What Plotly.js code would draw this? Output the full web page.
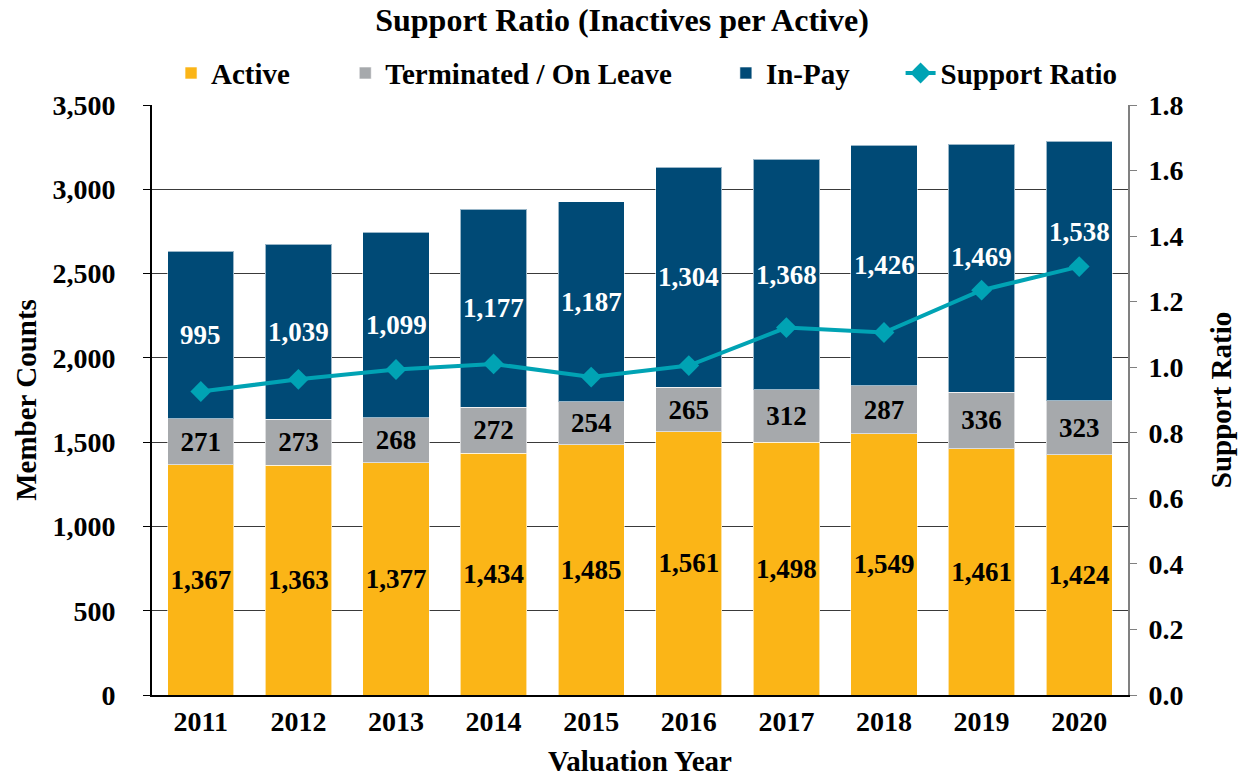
<!DOCTYPE html>
<html>
<head>
<meta charset="utf-8">
<script src="https://cdn.plot.ly/plotly-3.0.1.min.js"></script>
<style>html,body{margin:0;padding:0;background:#fff;}#chart{width:1244px;height:777px;}</style>
</head>
<body>
<div id="chart"></div>
<script>
const years = ["2011","2012","2013","2014","2015","2016","2017","2018","2019","2020"];
const active = [1367,1363,1377,1434,1485,1561,1498,1549,1461,1424];
const terminated = [271,273,268,272,254,265,312,287,336,323];
const inPay = [995,1039,1099,1177,1187,1304,1368,1426,1469,1538];
const supportRatio = [0.926,0.963,0.993,1.010,0.970,1.005,1.121,1.106,1.235,1.307];

// label nudges (px) for the In-Pay labels, kept apart from the data
const inPayLabelShift = [0,0,0,0,0,0,0,0,11,39];

const FONT = "Liberation Serif, Times New Roman, serif";
const fmt = v => v.toLocaleString("en-US");
const LBL = 27, TICK = 28, LEG = 29, ATITLE = 29;

function barTrace(name, y, color, textColor, legendId, showText) {
  const t = {
    type: "bar", name: name, x: years, y: y,
    hoverinfo: "skip", legend: legendId,
    marker: {color: color, line: {color: "rgba(255,255,255,0.6)", width: 1}}
  };
  if (showText) {
    Object.assign(t, {
      text: y.map(fmt), textposition: "inside", insidetextanchor: "middle",
      constraintext: "none", textangle: 0,
      insidetextfont: {family: FONT, size: LBL, color: textColor, weight: "bold"}
    });
  } else {
    t.textposition = "none";
  }
  return t;
}

const traces = [
  barTrace("Active", active, "#FBB517", "#000", "legend", true),
  barTrace("Terminated / On Leave", terminated, "#A6A9AC", "#000", "legend2", true),
  barTrace("In-Pay", inPay, "#004A76", "#fff", "legend3", false),
  {
    type: "scatter", mode: "lines+markers", name: "Support Ratio", legend: "legend4",
    x: years, y: supportRatio, yaxis: "y2",
    line: {color: "#00A3B4", width: 4},
    marker: {symbol: "diamond", size: 16, color: "#00A3B4"},
    hoverinfo: "skip"
  }
];

const annotations = years.map((yr, i) => ({
  x: i, y: active[i] + terminated[i] + inPay[i] / 2, xref: "x", yref: "y",
  text: fmt(inPay[i]), showarrow: false, yshift: inPayLabelShift[i],
  xanchor: "center", yanchor: "middle",
  font: {family: FONT, size: LBL, color: "#ffffff", weight: "bold"}
}));

function leg(x) {
  return {orientation: "h", x: x, xanchor: "left", y: 1.054, yanchor: "middle",
          font: {family: FONT, size: LEG, color: "#000", weight: "bold"},
          bgcolor: "rgba(0,0,0,0)", borderwidth: 0};
}

const layout = {
  width: 1244, height: 777,
  margin: {l: 152, r: 116, t: 105, b: 82},
  paper_bgcolor: "#fff", plot_bgcolor: "#fff",
  font: {family: FONT, color: "#000", size: TICK, weight: "bold"},
  barmode: "stack",
  bargap: 0.32,
  showlegend: true,
  annotations: annotations,
  title: {text: "Support Ratio (Inactives per Active)", x: 0.5, xanchor: "center", y: 0.974, yanchor: "middle",
          font: {family: FONT, size: 32, color: "#000", weight: "bold"}},
  legend: leg(0.0195),
  legend2: leg(0.198),
  legend3: leg(0.588),
  legend4: leg(0.767),
  xaxis: {
    type: "category", range: [-0.5, 9.5], autorange: false,
    showline: true, linecolor: "#000", linewidth: 2, mirror: false, automargin: false,
    ticks: "", tickfont: {family: FONT, size: TICK, weight: "bold"}, ticklabelstandoff: 0,
    title: {text: "Valuation Year", font: {family: FONT, size: ATITLE, weight: "bold"}, standoff: 17},
    fixedrange: true
  },
  yaxis: {
    range: [0, 3500], dtick: 500, tickformat: ",d", automargin: false,
    showgrid: true, gridcolor: "#3a3a3a", gridwidth: 1,
    showline: true, linecolor: "#000", linewidth: 2,
    ticks: "outside", ticklen: 7, tickcolor: "#000", ticklabelstandoff: 22,
    tickfont: {family: FONT, size: TICK, weight: "bold"},
    title: {text: "Member Counts", font: {family: FONT, size: ATITLE, weight: "bold"}, standoff: 7},
    zeroline: false, fixedrange: true
  },
  yaxis2: {
    overlaying: "y", side: "right", range: [0, 1.8], dtick: 0.2, tickformat: ".1f", automargin: false,
    showgrid: false, showline: true, linecolor: "#808080", linewidth: 2,
    ticks: "outside", ticklen: 7, tickcolor: "#808080", ticklabelstandoff: 6,
    tickfont: {family: FONT, size: TICK, weight: "bold"},
    title: {text: "Support Ratio", font: {family: FONT, size: ATITLE, weight: "bold"}, standoff: 28},
    zeroline: false, fixedrange: true
  }
};

Plotly.newPlot("chart", traces, layout, {displayModeBar: false, staticPlot: true});
</script>
</body>
</html>
